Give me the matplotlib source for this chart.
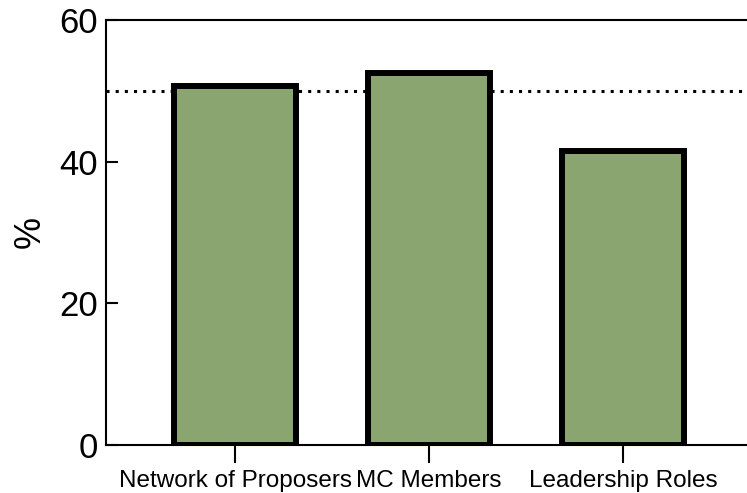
import matplotlib
matplotlib.use("Agg")
import matplotlib.pyplot as plt
import numpy as np

plt.rcParams['font.family'] = ['Liberation Sans', 'DejaVu Sans']

categories = ["Network of Proposers", "MC Members", "Leadership Roles"]
values = [50.6, 52.5, 41.5]
reference = 50
yticks = [0, 20, 40, 60]

fig = plt.figure(figsize=(7.47, 4.93), dpi=100)
ax = fig.add_axes([0.142, 0.097, 0.858, 0.863])

x = np.arange(len(categories))
ax.axhline(reference, color='black', linewidth=2.2, linestyle=(0, (1, 2)), zorder=1)
ax.bar(x, values, width=0.63, color='#8aa570', edgecolor='black', linewidth=4.3, zorder=2)

ax.set_xlim(-0.665, 2.64)
ax.set_ylim(0, 60)
ax.set_xticks(x)
ax.set_xticklabels(categories, fontsize=17.5)
ax.set_yticks(yticks)
ax.tick_params(axis='y', direction='in', length=8.6, width=1.5, labelsize=25, pad=6)
ax.tick_params(axis='x', direction='out', length=13, width=1.5, pad=5)
ax.set_ylabel('%', fontsize=26, labelpad=8)

for side in ['left', 'bottom', 'top']:
    ax.spines[side].set_linewidth(1.5)
ax.spines['right'].set_visible(False)

fig.savefig('out.png', dpi=100)
